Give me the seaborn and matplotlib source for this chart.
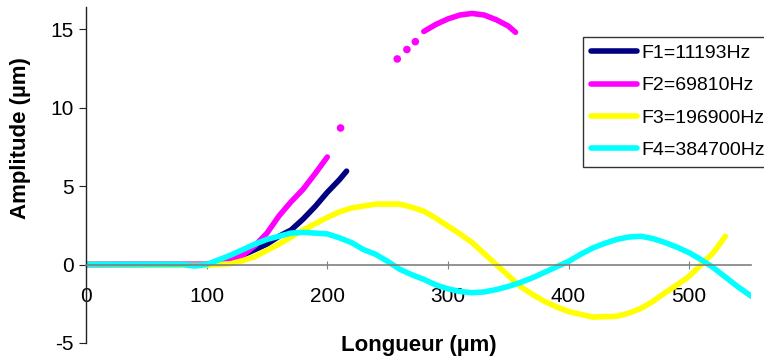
import pandas as pd
import seaborn as sns
import matplotlib.pyplot as plt
from matplotlib.lines import Line2D

labels = ['F1=11193Hz', 'F2=69810Hz', 'F3=196900Hz', 'F4=384700Hz']
colors = ['#000080', '#FF00FF', '#FFFF00', '#00FFFF']

# F1 - navy
f1_x = [0, 50, 100, 110, 120, 130, 140, 150, 160, 170, 180, 190, 200, 210, 216]
f1_y = [0, 0, 0, 0.1, 0.3, 0.6, 0.95, 1.3, 1.8, 2.2, 2.9, 3.7, 4.6, 5.4, 5.95]

# F2 - magenta (continuous part, then far arc)
f2_x = [0, 100, 110, 120, 130, 140, 150, 160, 170, 180, 190, 200]
f2_y = [0, 0, 0.1, 0.3, 0.6, 1.2, 2.0, 3.1, 4.0, 4.8, 5.8, 6.85]
f2b_x = [280, 290, 300, 310, 320, 330, 340, 350, 356]
f2b_y = [14.85, 15.3, 15.65, 15.9, 16.0, 15.9, 15.6, 15.2, 14.8]
f2_dots_x = [211, 258, 266, 273]
f2_dots_y = [8.7, 13.1, 13.7, 14.2]

# F3 - yellow
f3_x = [0, 90, 100, 110, 120, 130, 140, 150, 160, 170, 180, 190, 200, 210, 220,
        240, 260, 270, 280, 290, 300, 310, 320, 330, 340, 350, 360, 370, 380,
        390, 400, 420, 440, 450, 460, 470, 480, 490, 500, 510, 520, 530]
f3_y = [0, -0.05, -0.05, 0, 0.05, 0.25, 0.5, 0.9, 1.3, 1.75, 2.2, 2.6, 3.0, 3.35, 3.6,
        3.85, 3.85, 3.65, 3.4, 2.95, 2.45, 1.95, 1.4, 0.7, 0, -0.7, -1.4, -1.9, -2.35,
        -2.7, -3.0, -3.35, -3.3, -3.1, -2.8, -2.35, -1.8, -1.3, -0.75, 0, 0.75, 1.8]

# F4 - cyan
f4_x = [0, 80, 90, 100, 110, 120, 130, 140, 150, 160, 170, 180, 190, 200, 210,
        220, 230, 240, 250, 260, 270, 280, 290, 300, 310, 320, 330, 340, 350, 360,
        370, 380, 390, 400, 410, 420, 430, 440, 450, 460, 470, 480, 490, 500,
        510, 520, 530, 540, 553]
f4_y = [0, 0, -0.1, 0, 0.3, 0.6, 0.95, 1.3, 1.6, 1.8, 2.0, 2.05, 2.0, 1.95, 1.7,
        1.4, 0.95, 0.65, 0.2, -0.3, -0.65, -0.95, -1.3, -1.55, -1.72, -1.8, -1.75,
        -1.6, -1.4, -1.15, -0.85, -0.5, -0.15, 0.2, 0.65, 1.05, 1.35, 1.6, 1.75,
        1.8, 1.65, 1.4, 1.1, 0.75, 0.3, -0.2, -0.8, -1.4, -2.1]

segments = [
    (labels[0], 'a', f1_x, f1_y),
    (labels[1], 'a', f2_x, f2_y),
    (labels[1], 'b', f2b_x, f2b_y),
    (labels[2], 'a', f3_x, f3_y),
    (labels[3], 'a', f4_x, f4_y),
]
rows = []
for serie, seg, xs, ys in segments:
    for x, y in zip(xs, ys):
        rows.append({'x': x, 'y': y, 'serie': serie, 'seg': serie + seg})
df = pd.DataFrame(rows)
dots = pd.DataFrame({'x': f2_dots_x, 'y': f2_dots_y})

sns.set_style('white')
plt.rcParams['font.family'] = ['Liberation Sans', 'DejaVu Sans']
plt.rcParams['axes.unicode_minus'] = False
plt.rcParams['text.color'] = 'black'
plt.rcParams['axes.labelcolor'] = 'black'

fig = plt.figure(figsize=(7.64, 3.58), dpi=100)
ax = fig.add_axes([0.1126, 0.042, 0.870, 0.938])

sns.lineplot(data=df, x='x', y='y', hue='serie', hue_order=labels, units='seg',
             estimator=None, palette=dict(zip(labels, colors)), linewidth=4,
             sort=False, legend=False, ax=ax)
sns.scatterplot(data=dots, x='x', y='y', color=colors[1], s=30, edgecolor='none', ax=ax)

ax.set_xlim(0, 551)
ax.set_ylim(-5, 16.4)
ax.set_xticks([0, 100, 200, 300, 400, 500])
ax.set_yticks([-5, 0, 5, 10, 15])

ax.spines['top'].set_visible(False)
ax.spines['right'].set_visible(False)
ax.spines['bottom'].set_position(('data', 0))
ax.spines['bottom'].set_color('#808080')
ax.spines['bottom'].set_linewidth(1.2)
ax.spines['left'].set_color('#222222')
ax.spines['left'].set_linewidth(1.0)

ax.tick_params(axis='x', direction='inout', length=6, pad=13, color='#808080',
               labelcolor='black', labelsize=15, bottom=True)
ax.tick_params(axis='y', direction='out', length=5, pad=4, color='#222222',
               labelcolor='black', labelsize=15, left=True)

ax.set_xlabel('Longueur (µm)', fontsize=16, fontweight='bold')
ax.xaxis.set_label_coords(0.5, 0.024)
ax.set_ylabel('Amplitude (µm)', fontsize=16, fontweight='bold')
ax.yaxis.set_label_coords(-0.083, 0.611)

handles = [Line2D([], [], color=c, lw=4) for c in colors]
leg = ax.legend(handles, labels, loc='upper left', bbox_to_anchor=(0.763, 0.897),
                bbox_transform=fig.transFigure, frameon=True, fancybox=False,
                edgecolor='black', fontsize=14, handlelength=2.4,
                handletextpad=0.2, labelspacing=0.75, borderaxespad=0,
                borderpad=0.4)
leg.get_frame().set_linewidth(1.0)
for t in leg.get_texts():
    t.set_color('black')

fig.savefig('out.png', dpi=100)
plt.close()
